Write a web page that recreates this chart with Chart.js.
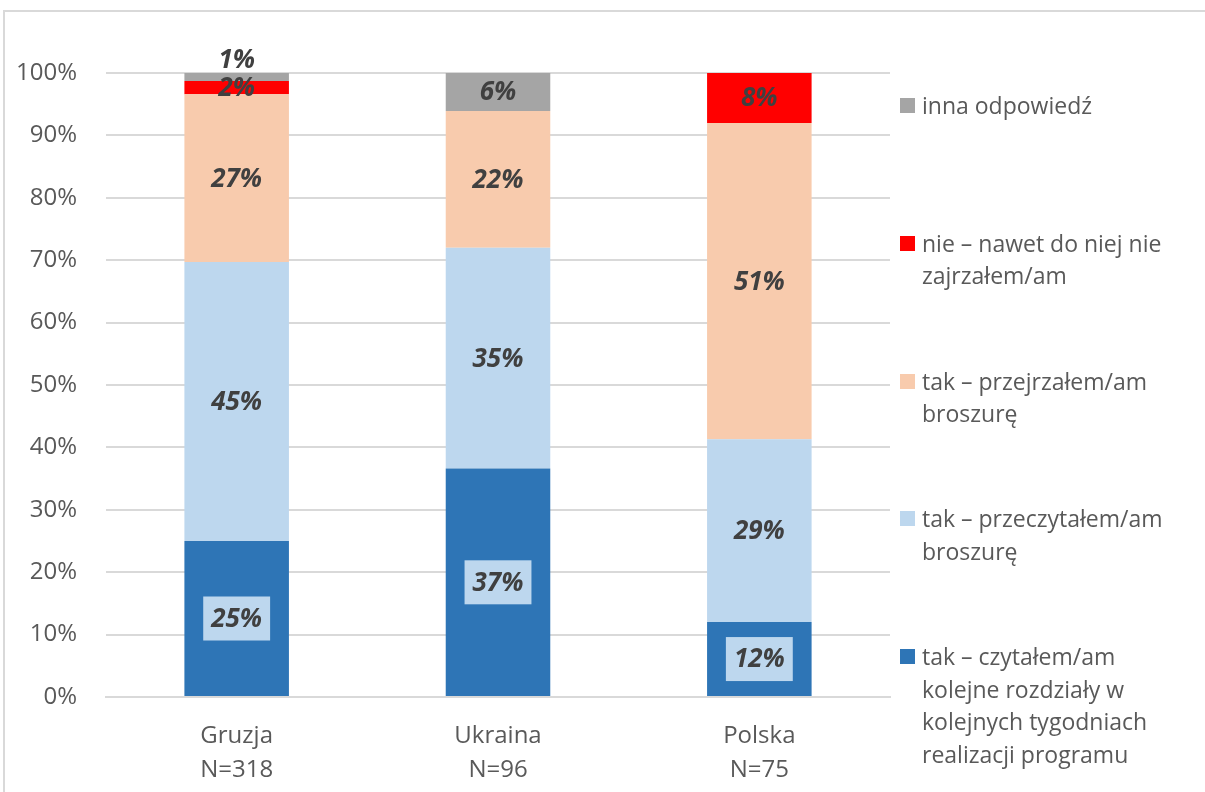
<!DOCTYPE html>
<html>
<head>
<meta charset="utf-8">
<script src="https://cdn.jsdelivr.net/npm/chart.js@4"></script>
<style>
  body { margin: 0; background: #fff; overflow: hidden; }
  #wrap { position: relative; width: 1205px; height: 792px; }
  #frame { position: absolute; left: 3px; top: 10px; width: 1300px; height: 900px; border: 2px solid #d9d9d9; box-sizing: border-box; }
  #legend { position: absolute; left: 900px; top: 0; font-family: "Open Sans", sans-serif; font-size: 23px; color: #595959; }
  .item { position: absolute; left: 0; width: 305px; line-height: 32.5px; }
  .item span.box { position: absolute; left: 0; top: 9px; width: 15px; height: 15px; }
  .item div { margin-left: 22px; white-space: nowrap; }
</style>
</head>
<body>
<div id="wrap">
  <div id="frame"></div>
  <canvas id="myChart"></canvas>
  <div id="legend"></div>
</div>
<script>
// categories and sample sizes
const countries = ["Gruzja", "Ukraina", "Polska"];
const sampleSizes = ["N=318", "N=96", "N=75"];

// series values (% of respondents)
const czytalem = [25.0, 36.6, 12.0];
const przeczytalem = [44.7, 35.4, 29.3];
const przejrzalem = [26.9, 21.9, 50.7];
const nieZajrzalem = [2.1, 0, 8.0];
const inna = [1.3, 6.1, 0];

const seriesNames = [
  ["tak – czytałem/am", "kolejne rozdziały w", "kolejnych tygodniach", "realizacji programu"],
  ["tak – przeczytałem/am", "broszurę"],
  ["tak – przejrzałem/am", "broszurę"],
  ["nie – nawet do niej nie", "zajrzałem/am"],
  ["inna odpowiedź"]
];
const seriesColors = ["#2e75b6", "#bdd7ee", "#f8cbad", "#ff0000", "#a5a5a5"];
const yTicks = [0, 10, 20, 30, 40, 50, 60, 70, 80, 90, 100];

var allSeries = [czytalem, przeczytalem, przejrzalem, nieZajrzalem, inna];

var datasets = [];
for (var i = 0; i < allSeries.length; i++) {
  datasets.push({
    label: seriesNames[i].join(" "),
    data: allSeries[i],
    backgroundColor: seriesColors[i],
    borderWidth: 0,
    categoryPercentage: 1,
    barPercentage: 0.4
  });
}

// draw value labels on the segments
var valueLabels = {
  id: "valueLabels",
  afterDatasetsDraw: function(chart) {
    var ctx = chart.ctx;
    ctx.save();
    ctx.font = "italic bold 26px 'Open Sans'";
    ctx.textAlign = "center";
    ctx.textBaseline = "middle";
    chart.data.datasets.forEach(function(ds, di) {
      var meta = chart.getDatasetMeta(di);
      meta.data.forEach(function(bar, j) {
        var v = ds.data[j];
        if (!v) return;
        var txt = Math.round(v) + "%";
        var cy = (bar.y + bar.base) / 2;
        // tiny top segment: label goes above the bar
        if (di == chart.data.datasets.length - 1 && v < 1.5) cy = bar.y - 13;
        if (di == 0) {
          var w = ctx.measureText(txt).width + 16;
          ctx.fillStyle = "#bdd7ee";
          ctx.fillRect(bar.x - w / 2, cy - 22, w, 44);
        }
        ctx.fillStyle = "#404040";
        ctx.fillText(txt, bar.x, cy + 1);
      });
    });
    ctx.restore();
  }
};

new Chart("myChart", {
  type: "bar",
  data: {
    labels: countries.map(function(c, i) { return [c, sampleSizes[i]]; }),
    datasets: datasets
  },
  options: {
    responsive: true,
    maintainAspectRatio: false,
    animation: false,
    layout: { padding: { top: 73, right: 315, left: 0, bottom: 0 } },
    plugins: { legend: { display: false }, tooltip: { enabled: false } },
    scales: {
      x: {
        stacked: true,
        grid: { display: false },
        border: { color: "#d9d9d9", width: 2 },
        ticks: {
          color: "#595959",
          font: { family: "Open Sans", size: 24, lineHeight: 1.42 },
          padding: 14
        },
        afterFit: function(scale) { scale.height = 95; }
      },
      y: {
        stacked: true,
        min: 0,
        max: 100,
        afterBuildTicks: function(scale) {
          scale.ticks = yTicks.map(function(v) { return { value: v }; });
        },
        grid: { color: "#d9d9d9", lineWidth: 2, drawTicks: false },
        border: { display: false },
        ticks: {
          color: "#595959",
          font: { family: "Open Sans", size: 24 },
          padding: 29,
          callback: function(v) { return v + "%"; }
        },
        afterFit: function(scale) { scale.width = 106; }
      }
    }
  },
  plugins: [valueLabels]
});

// legend on the right, reversed order
var legend = document.getElementById("legend");
for (var k = seriesNames.length - 1; k >= 0; k--) {
  var pos = seriesNames.length - 1 - k;
  var item = document.createElement("div");
  item.className = "item";
  item.style.top = (89 + pos * 137.75) + "px";
  var box = document.createElement("span");
  box.className = "box";
  box.style.background = seriesColors[k];
  item.appendChild(box);
  var txt = document.createElement("div");
  txt.innerHTML = seriesNames[k].join("<br>");
  item.appendChild(txt);
  legend.appendChild(item);
}
</script>
</body>
</html>
